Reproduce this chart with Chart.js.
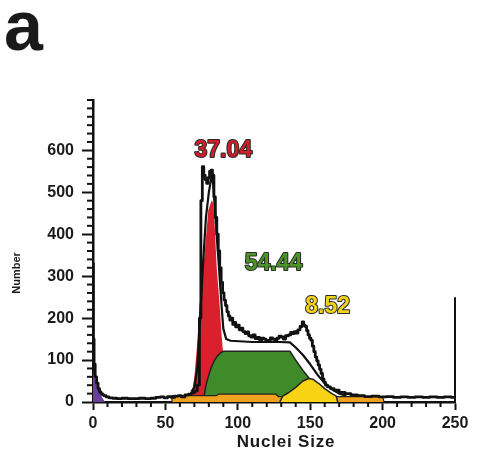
<!DOCTYPE html>
<html>
<head>
<meta charset="utf-8">
<script src="https://cdn.jsdelivr.net/npm/chart.js@4.4.1/dist/chart.umd.min.js"></script>
<style>
  html, body { margin: 0; padding: 0; background: #fff; }
  canvas { display: block; }
</style>
</head>
<body>
<canvas id="c" width="483" height="462"></canvas>
<script>
// datos
const rawX = [0, 0.5, 1, 2, 3, 4, 5, 6, 7, 8, 10, 12, 15, 18, 22, 26, 30, 34, 38, 42, 45, 48, 50, 53, 55, 58, 60, 62, 65, 67, 69, 71, 73, 74, 75, 76, 77, 78, 79, 80, 81, 82, 83, 84, 85, 86, 87, 88, 89, 90, 91, 92, 93, 94, 95, 96, 97, 98, 99, 100, 102, 103, 104, 106, 107, 108, 110, 111, 113, 114, 116, 117, 119, 120, 122, 123, 125, 126, 128, 129, 131, 132, 134, 136, 137, 138, 140, 141, 142, 144, 145, 146, 147, 148, 149, 150, 151, 152, 153, 154, 155, 156, 157, 158, 159, 160, 161, 163, 165, 168, 172, 176, 180, 185, 190, 195, 200, 205, 210, 215, 220, 225, 230, 235, 240, 245, 250];
const rawY = [330, 150, 90, 60, 45, 32, 24, 20, 17, 15, 12, 10, 9, 8, 9, 8, 8, 9, 8, 9, 11, 12, 10, 13, 11, 14, 15, 12, 17, 19, 22, 26, 40, 200, 480, 561, 540, 530, 521, 535, 550, 553, 540, 489, 440, 400, 360, 320, 285, 260, 243, 230, 215, 205, 195, 200, 185, 190, 179, 183, 172, 176, 168, 163, 167, 158, 155, 160, 151, 154, 148, 152, 150, 146, 147, 153, 150, 146, 152, 157, 155, 150, 158, 160, 166, 163, 168, 164, 172, 180, 191, 183, 180, 170, 160, 152, 147, 133, 120, 107, 98, 88, 78, 68, 55, 47, 40, 36, 32, 28, 23, 20, 17, 15, 13, 14, 12, 13, 11, 12, 11, 12, 11, 12, 11, 12, 11];

const fitX = [68, 70, 72, 74, 76, 78, 80, 81, 82, 83, 84, 85, 86, 87, 88, 89, 90, 92, 95, 110, 129, 136, 140, 145, 150, 155, 160, 165, 170, 175];
const fitY = [25, 35, 80, 200, 330, 440, 500, 520, 540, 520, 470, 420, 370, 320, 270, 220, 175, 150, 146, 143, 143, 142, 130, 112, 90, 65, 45, 30, 20, 15];

const redX = [67, 68.5, 70, 71.6, 73.9, 75.5, 77.3, 79.6, 82, 83.2, 84.3, 85.4, 87.2, 88.9, 90, 92, 94, 96];
const redY = [0, 25, 60, 123, 242, 300, 362, 457, 481, 473, 402, 322, 243, 155, 110, 50, 20, 0];

const greenX = [76, 78, 80, 82, 84, 86, 88, 90, 136, 140, 145, 149, 152, 156, 158, 159];
const greenY = [0, 40, 65, 85, 100, 110, 117, 121, 121, 100, 75, 58, 45, 28, 18, 0];

const yellowX = [129, 131, 135, 140, 145, 149, 152, 156, 160, 165, 168, 169];
const yellowY = [0, 14, 22, 35, 50, 56, 54, 44, 32, 20, 14, 0];

const orangeX = [54, 54.5, 85, 87, 126, 128, 200, 201];
const orangeY = [0, 15, 15, 19, 19, 13, 13, 0];

const purpleX = [0, 2, 4, 6, 8];
const purpleY = [68, 45, 25, 10, 0];

const markerX = [250, 250];
const markerY = [0, 250];

const etiquetas = [
  { texto: '37.04', x: 90, y: 600, color: '#cf1d2d' },
  { texto: '54.44', x: 124.7, y: 330, color: '#4a9428' },
  { texto: '8.52', x: 162, y: 227, color: '#f2d21a' }
];

const FUENTE = '"Liberation Sans", Arial, Helvetica, sans-serif';

const pts = (xs, ys) => xs.map((x, i) => ({ x: x, y: ys[i] }));

function serie(xs, ys, extra) {
    return Object.assign({
        data: pts(xs, ys),
        pointRadius: 0,
        tension: 0,
        borderJoinStyle: 'round'
    }, extra);
}

// marcas menores y textos
const extrasPlugin = {
    id: 'extras',
    afterDraw(chart) {
        const ctx = chart.ctx;
        const xs = chart.scales.x, ys = chart.scales.y;
        const area = chart.chartArea;
        ctx.save();
        ctx.strokeStyle = '#111';
        ctx.lineWidth = 2;
        for (let v = 20; v <= 720; v += 20) {
            if (v % 100 === 0 && v <= 600) continue;
            const py = ys.getPixelForValue(v);
            ctx.beginPath();
            ctx.moveTo(area.left - 6, py);
            ctx.lineTo(area.left, py);
            ctx.stroke();
        }
        for (let v = 10; v < 250; v += 10) {
            if (v % 50 === 0) continue;
            const px = xs.getPixelForValue(v);
            ctx.beginPath();
            ctx.moveTo(px, area.bottom);
            ctx.lineTo(px, area.bottom + 5);
            ctx.stroke();
        }

        // etiquetas de porcentaje
        ctx.font = 'bold 23px ' + FUENTE;
        ctx.textAlign = 'center';
        ctx.textBaseline = 'middle';
        ctx.lineJoin = 'round';
        etiquetas.forEach(e => {
            const px = xs.getPixelForValue(e.x), py = ys.getPixelForValue(e.y);
            ctx.lineWidth = 2;
            ctx.strokeStyle = '#2a2a2a';
            ctx.strokeText(e.texto, px, py);
            ctx.fillStyle = e.color;
            ctx.fillText(e.texto, px, py);
        });

        // titulos
        ctx.fillStyle = '#1a1a1a';
        ctx.font = 'bold 17px ' + FUENTE;
        ctx.letterSpacing = '0.8px';
        ctx.fillText('Nuclei Size', (area.left + area.right) / 2 + 12, 442);
        ctx.letterSpacing = '0px';

        ctx.save();
        ctx.translate(17, 273);
        ctx.rotate(-Math.PI / 2);
        ctx.font = 'bold 11px ' + FUENTE;
        ctx.fillText('Number', 0, 0);
        ctx.restore();

        ctx.textAlign = 'left';
        ctx.textBaseline = 'alphabetic';
        ctx.font = 'bold 70px ' + FUENTE;
        ctx.fillText('a', 4, 50);
        ctx.restore();
    }
};

new Chart(document.getElementById('c'), {
    type: 'line',
    data: {
        datasets: [
            serie(rawX, rawY, { borderColor: '#111', borderWidth: 2.8, fill: false, stepped: 'middle' }),
            serie(fitX, fitY, { borderColor: '#111', borderWidth: 2.2, fill: false }),
            serie(markerX, markerY, { borderColor: '#111', borderWidth: 2, fill: false, clip: 5 }),
            serie(purpleX, purpleY, { borderColor: '#5a3590', borderWidth: 1, backgroundColor: '#6b3fa0', fill: 'origin' }),
            serie(yellowX, yellowY, { borderColor: '#222', borderWidth: 1.5, backgroundColor: '#f8d313', fill: 'origin' }),
            serie(orangeX, orangeY, { borderColor: '#222', borderWidth: 1.2, backgroundColor: '#f2a11f', fill: 'origin' }),
            serie(greenX, greenY, { borderColor: '#222', borderWidth: 1.5, backgroundColor: '#3f8b2a', fill: 'origin' }),
            serie(redX, redY, { borderColor: '#d9202c', borderWidth: 0, backgroundColor: '#d9202c', fill: 'origin' })
        ]
    },
    options: {
        responsive: false,
        animation: false,
        devicePixelRatio: 1,
        layout: { padding: { left: 0, top: 100, right: 28, bottom: 0 } },
        plugins: { legend: { display: false }, tooltip: { enabled: false } },
        scales: {
            x: {
                type: 'linear',
                min: 0,
                max: 250,
                border: { display: true, color: '#111', width: 2.5 },
                grid: { display: true, drawOnChartArea: false, tickLength: 8, tickWidth: 2, tickColor: '#111' },
                ticks: { stepSize: 50, maxRotation: 0, padding: 4, color: '#1a1a1a', font: { family: FUENTE, size: 16, weight: 'bold' } },
                afterFit(s) { s.height = 60; }
            },
            y: {
                type: 'linear',
                min: 0,
                max: 720,
                border: { display: true, color: '#111', width: 2.5 },
                grid: {
                    display: true, drawOnChartArea: false, tickLength: 11, tickWidth: 2,
                    tickColor: c => (c.tick && c.tick.value <= 600) ? '#111' : 'rgba(0,0,0,0)'
                },
                ticks: {
                    stepSize: 100, padding: 8, color: '#1a1a1a',
                    font: { family: FUENTE, size: 16, weight: 'bold' },
                    callback: v => (v <= 600 && v % 100 === 0) ? v : ''
                },
                afterFit(s) { s.width = 93; }
            }
        }
    },
    plugins: [extrasPlugin]
});
</script>
</body>
</html>
